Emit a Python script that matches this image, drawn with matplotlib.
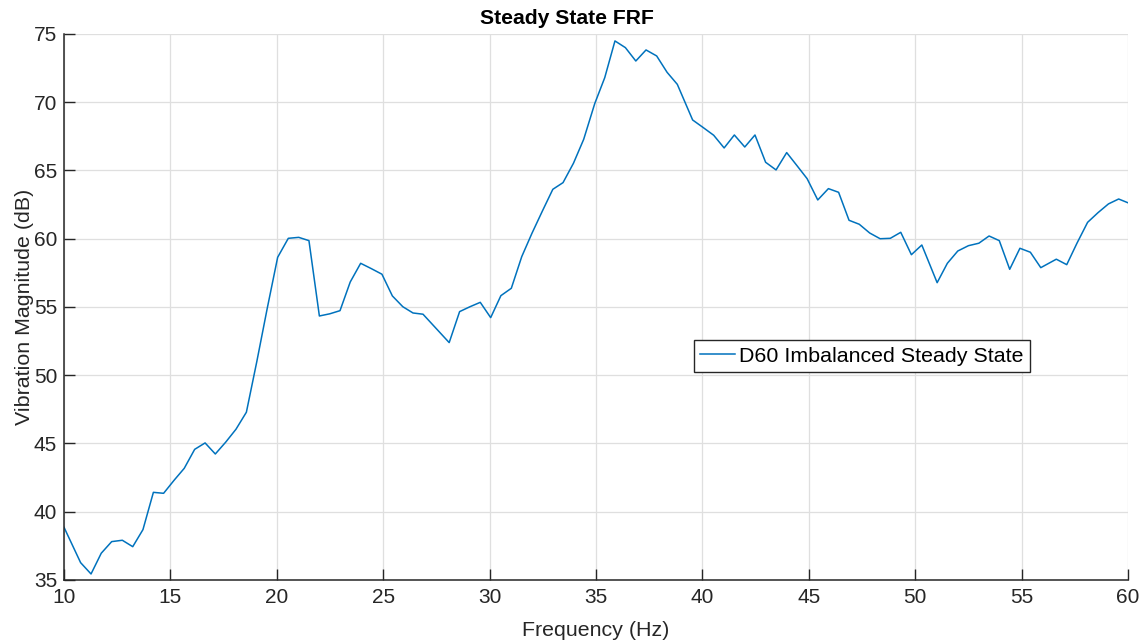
import matplotlib
matplotlib.use("Agg")
import matplotlib.pyplot as plt

plt.rcParams['font.family'] = ['Liberation Sans', 'DejaVu Sans']

# frequency points (Hz) and magnitude (dB)
freq = [10.00, 10.78, 11.27, 11.75, 12.24, 12.74, 13.23, 13.71, 14.20, 14.68,
        15.17, 15.65, 16.14, 16.63, 17.11, 17.60, 18.08, 18.57, 19.06, 19.55,
        20.04, 20.54, 21.03, 21.51, 22.00, 22.49, 22.97, 23.45, 23.94, 24.44,
        24.94, 25.43, 25.92, 26.40, 26.87, 28.10, 28.59, 29.08, 29.56, 30.05,
        30.53, 31.02, 31.51, 31.99, 32.48, 32.97, 33.45, 33.94, 34.42, 34.94,
        35.41, 35.89, 36.38, 36.87, 37.35, 37.85, 38.34, 38.82, 39.54, 40.04,
        40.53, 41.02, 41.50, 41.99, 42.47, 42.97, 43.46, 43.96, 44.43, 44.92,
        45.42, 45.92, 46.40, 46.89, 47.37, 47.86, 48.35, 48.83, 49.32, 49.82,
        50.31, 51.03, 51.51, 52.00, 52.50, 52.99, 53.47, 53.95, 54.44, 54.92,
        55.41, 55.90, 56.63, 57.12, 57.60, 58.10, 58.59, 59.08, 59.56, 60.05]
mag = [38.86, 36.27, 35.44, 36.96, 37.81, 37.91, 37.44, 38.69, 41.42, 41.35,
       42.30, 43.18, 44.57, 45.04, 44.23, 45.10, 46.04, 47.29, 51.00, 54.90,
       58.64, 60.03, 60.10, 59.86, 54.34, 54.50, 54.73, 56.83, 58.20, 57.81,
       57.40, 55.81, 55.02, 54.56, 54.47, 52.39, 54.66, 55.02, 55.34, 54.22,
       55.83, 56.37, 58.69, 60.40, 62.03, 63.62, 64.11, 65.53, 67.28, 69.90,
       71.80, 74.49, 74.00, 73.02, 73.83, 73.39, 72.19, 71.31, 68.70, 68.14,
       67.58, 66.65, 67.60, 66.72, 67.60, 65.60, 65.04, 66.31, 65.38, 64.40,
       62.84, 63.67, 63.40, 61.35, 61.06, 60.42, 60.00, 60.03, 60.47, 58.83,
       59.54, 56.78, 58.20, 59.10, 59.49, 59.67, 60.20, 59.86, 57.76, 59.30,
       59.01, 57.88, 58.50, 58.10, 59.67, 61.20, 61.91, 62.55, 62.91, 62.60]

series_name = 'D60 Imbalanced Steady State'
x_ticks = [10, 15, 20, 25, 30, 35, 40, 45, 50, 55, 60]
y_ticks = [35, 40, 45, 50, 55, 60, 65, 70, 75]

ax_color = '#262626'

fig = plt.figure(figsize=(11.43, 6.41), dpi=100)
ax = fig.add_axes([0.056, 0.0952, 0.9309, 0.8518])

ax.plot(freq, mag, color='#0072BD', linewidth=1.1, label=series_name)

ax.set_xlim(10, 60)
ax.set_ylim(35, 75)
ax.set_xticks(x_ticks)
ax.set_yticks(y_ticks)

ax.grid(True, color='#dfdfdf', linewidth=0.9)
ax.set_axisbelow(True)
for side in ['top', 'right']:
    ax.spines[side].set_visible(False)
for side in ['left', 'bottom']:
    ax.spines[side].set_color(ax_color)
    ax.spines[side].set_linewidth(1.1)

ax.tick_params(direction='in', length=7.6, width=1.0, color=ax_color,
               labelcolor=ax_color, labelsize=15)
ax.tick_params(axis='y', pad=5)
ax.tick_params(axis='x', pad=6)

ax.set_xlabel('Frequency (Hz)', fontsize=15.4, color=ax_color, labelpad=9.5)
ax.set_ylabel('Vibration Magnitude (dB)', fontsize=15.4, color=ax_color, labelpad=0)
# title sits centred on the figure, a bit left of the axes centre
ax.set_title('Steady State FRF', fontsize=15.2, fontweight='bold', pad=7, x=0.473)

leg = ax.legend(loc='lower left', bbox_to_anchor=(0.592, 0.381), borderaxespad=0,
                fontsize=15.4, fancybox=False, framealpha=1, edgecolor=ax_color,
                handlelength=1.6, handletextpad=0.2, borderpad=0.3)
leg.get_frame().set_linewidth(1.0)

fig.savefig('out.png', dpi=100)
